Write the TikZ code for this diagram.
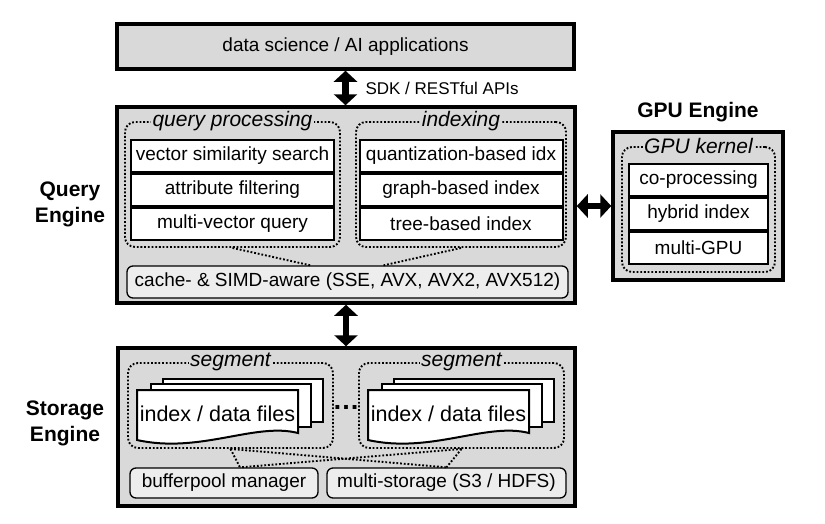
\documentclass[tikz,border=0pt]{standalone}
\usepackage{fontspec}
\setmainfont{Liberation Sans}
\usetikzlibrary{arrows.meta,positioning}

\definecolor{panelgray}{gray}{0.85}
\definecolor{softgray}{gray}{0.93}

\begin{document}
\begin{tikzpicture}[
    x=1pt, y=-1pt,
    node distance=0pt,
    layer/.style={draw, line width=3.5pt, fill=panelgray, inner sep=0pt},
    group/.style={draw, rounded corners=10pt, line width=1.9pt, dash pattern=on 1.8pt off 1.9pt, inner sep=0pt},
    grouptitle/.style={fill=panelgray, inner sep=1.5pt, font=\fontsize{21}{24}\selectfont\itshape},
    item/.style={draw, line width=2pt, fill=white, inner sep=0pt, minimum height=32pt, font=\fontsize{19}{22}\selectfont},
    base/.style={draw, line width=1.3pt, rounded corners=6pt, fill=softgray, inner sep=0pt, font=\fontsize{19}{22}\selectfont},
    enginelabel/.style={align=center, font=\fontsize{21}{26}\selectfont\bfseries},
    bigarrow/.style={{Triangle[length=11pt,width=23pt]}-{Triangle[length=11pt,width=23pt]}, line width=6.5pt},
    link/.style={line width=1.9pt, dash pattern=on 1.8pt off 1.9pt},
    page/.style={draw, line width=2pt, fill=white}
]
\useasboundingbox (0,0) rectangle (825,523);

% applications layer
\node[layer, minimum width=457pt, minimum height=45pt, font=\fontsize{19}{22}\selectfont] (apps) at (345.5,46.5) {data science / AI applications};
\node[anchor=west, font=\fontsize{17}{20}\selectfont] (sdk) at (362,88) {SDK / RESTful APIs};

% query engine
\node[layer, minimum width=458pt, minimum height=196pt] (query) at (346,205) {};
\node[enginelabel] (querylabel) at (70,204) {Query\\Engine};

\node[group, minimum width=215pt, minimum height=125pt] (qp) at (232.5,184.5) {};
\node[grouptitle] (qptitle) at (qp.north) {query processing};
\node[item, minimum width=203pt, below=18pt of qp.north] (vss) {vector similarity search};
\node[item, minimum width=203pt, below=of vss] (filter) {attribute filtering};
\node[item, minimum width=203pt, below=of filter] (multivec) {multi-vector query};

\node[group, minimum width=210pt, minimum height=125pt] (idx) at (461,184.5) {};
\node[grouptitle] (idxtitle) at (idx.north) {indexing};
\node[item, minimum width=203pt, below=18pt of idx.north] (quant) {quantization-based idx};
\node[item, minimum width=203pt, below=of quant] (graph) {graph-based index};
\node[item, minimum width=203pt, below=of graph] (tree) {tree-based index};

\node[base, minimum width=441pt, minimum height=32pt] (cache) at (347.5,282) {cache- \& SIMD-aware (SSE, AVX, AVX2, AVX512)};
\draw[link] (qp.south) -- ([xshift=-37pt]cache.north);
\draw[link] (idx.south) -- ([xshift=36pt]cache.north);

% gpu engine
\node[layer, minimum width=170pt, minimum height=148pt] (gpu) at (698,206) {};
\node[enginelabel] (gputitle) at (698,112) {GPU Engine};
\node[group, minimum width=153pt, minimum height=125pt] (kernel) at (698.5,209.5) {};
\node[grouptitle] (kerneltitle) at (kernel.north) {GPU kernel};
\node[item, minimum width=139pt, below=17pt of kernel.north] (coproc) {co-processing};
\node[item, minimum width=139pt, below=of coproc] (hybrid) {hybrid index};
\node[item, minimum width=139pt, below=of hybrid] (multigpu) {multi-GPU};

% storage engine
\node[layer, minimum width=457pt, minimum height=158pt] (storage) at (346.5,427) {};
\node[enginelabel] (storagelabel) at (65,423) {Storage\\Engine};

\foreach \sx/\nm in {0/left,231/right} {
  \begin{scope}[xshift=\sx pt]
    \node[group, minimum width=205pt, minimum height=85pt] (seg\nm) at (230.5,405.5) {};
    \node[grouptitle] (segtitle\nm) at (seg\nm.north) {segment};
    \draw[page] (163,379) rectangle (323,422);
    \draw[page] (151,384) rectangle (311,427);
    \draw[page] (137,390) -- (298,390) -- (298,433) .. controls (255,422) and (200,454) .. (137,440) -- cycle;
    \node[font=\fontsize{21.5}{24}\selectfont, inner sep=0pt] (files\nm) at (217.5,414) {index / data files};
  \end{scope}
}
\node[font=\fontsize{27}{30}\selectfont\bfseries, inner sep=0pt, anchor=base] (gap) at (346,409) {…};

\node[base, minimum width=188pt, minimum height=30pt] (buffer) at (224,483) {bufferpool manager};
\node[base, minimum width=239pt, minimum height=30pt] (multistore) at (446.5,483) {multi-storage (S3 / HDFS)};
\draw[link] (segleft.south) -- ([xshift=16pt]buffer.north);
\draw[link] (segleft.south) -- (multistore.north);
\draw[link] (segright.south) -- ([xshift=16pt]buffer.north);
\draw[link] (segright.south) -- (multistore.north);

% connections between layers
\draw[bigarrow] (apps.south) -- (apps.south |- query.north);
\draw[bigarrow] (query.south) -- (query.south |- storage.north);
\draw[bigarrow] (query.east |- gpu) -- (gpu.west);
\end{tikzpicture}
\end{document}
